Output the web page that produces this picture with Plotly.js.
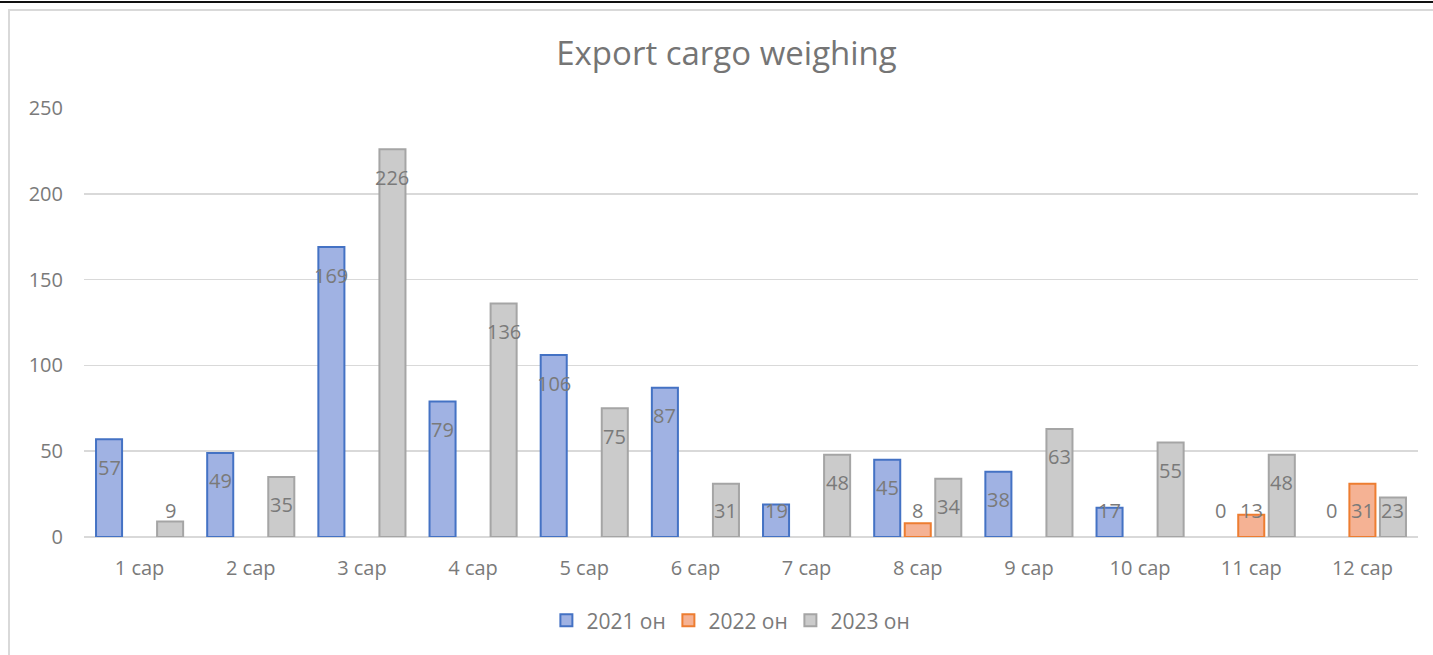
<!DOCTYPE html>
<html>
<head>
<meta charset="utf-8">
<script src="https://cdn.plot.ly/plotly-3.0.1.min.js"></script>
<style>
  html, body { margin: 0; padding: 0; background: #fff; width: 1433px; height: 655px; overflow: hidden; }
  #topline { position: absolute; left: 0; top: 1px; width: 1433px; height: 2px; background: #111; }
  #frame { position: absolute; left: 8px; top: 9px; width: 1425px; height: 646px;
           border-left: 2px solid #d9d9d9; border-top: 2px solid #d9d9d9; box-sizing: border-box; }
  #chart { position: absolute; left: 0; top: 0; width: 1433px; height: 655px; }
</style>
</head>
<body>
<div id="topline"></div>
<div id="frame"></div>
<div id="chart"></div>
<script>
const categories = ["1 сар","2 сар","3 сар","4 сар","5 сар","6 сар","7 сар","8 сар","9 сар","10 сар","11 сар","12 сар"];
const seriesNames = ["2021 он","2022 он","2023 он"];
const values2021 = [57, 49, 169, 79, 106, 87, 19, 45, 38, 17, 0, 0];
const values2022 = [null, null, null, null, null, null, null, 8, null, null, 13, 31];
const values2023 = [9, 35, 226, 136, 75, 31, 48, 34, 63, 55, 48, 23];
const yTicks = [0, 50, 100, 150, 200, 250];

const allSeries = [values2021, values2022, values2023];
const fills = ["#a0b2e3", "#f5b294", "#cbcbcb"];
const borders = ["#4472c4", "#ed7d31", "#a5a5a5"];
const textGray = "#7a7a7a";
const FONT = "Open Sans, sans-serif";

const bargap = 0.176, bargroupgap = 0.147;

const traces = allSeries.map((vals, k) => ({
  type: "bar",
  name: seriesNames[k],
  x: categories,
  y: vals,
  marker: {
    color: fills[k],
    line: { color: borders[k], width: vals.map(v => (v === 0 ? 0 : 2)) }
  },
  hoverinfo: "x+y+name"
}));

// data labels: inside end, pushed up above the baseline for short bars
const slot = (1 - bargap) / allSeries.length;
const annotations = [];
allSeries.forEach((vals, k) => {
  vals.forEach((v, i) => {
    if (v === null) return;
    annotations.push({
      x: i + (k - (allSeries.length - 1) / 2) * slot,
      y: Math.max(v, 32),
      xref: "x", yref: "y",
      text: String(v),
      showarrow: false,
      yanchor: "middle",
      yshift: -28,
      font: { family: FONT, size: 20, color: textGray }
    });
  });
});

const layout = {
  width: 1433, height: 655,
  paper_bgcolor: "rgba(0,0,0,0)",
  plot_bgcolor: "rgba(0,0,0,0)",
  margin: { l: 84, r: 15, t: 108, b: 118, pad: 0 },
  barmode: "group",
  bargap: bargap,
  bargroupgap: bargroupgap,
  title: {
    text: "Export cargo weighing",
    x: 0.507, xref: "container", xanchor: "center",
    y: 0.919, yref: "container", yanchor: "middle",
    font: { family: FONT, size: 33, color: "#757575" }
  },
  xaxis: {
    type: "category",
    tickfont: { family: FONT, size: 20, color: textGray },
    showgrid: false, zeroline: false, showline: false, ticks: "",
    ticklabelstandoff: 17,
    fixedrange: true
  },
  yaxis: {
    range: [0, 250],
    tickvals: yTicks,
    ticktext: yTicks.map(String),
    tickfont: { family: FONT, size: 20, color: textGray },
    showgrid: true, gridcolor: "#d9d9d9", gridwidth: 1.5,
    zeroline: true, zerolinecolor: "#d9d9d9", zerolinewidth: 1.5,
    showline: false, ticks: "",
    ticklabelstandoff: 20,
    fixedrange: true
  },
  legend: {
    orientation: "h",
    x: 0.4838, xanchor: "center",
    y: -0.195, yanchor: "middle",
    font: { family: FONT, size: 21, color: textGray },
    itemwidth: 30,
    entrywidth: 77,
    entrywidthmode: "pixels",
    traceorder: "normal"
  },
  showlegend: true,
  annotations: annotations
};

Plotly.newPlot("chart", traces, layout, { displayModeBar: false, staticPlot: true });
</script>
</body>
</html>
